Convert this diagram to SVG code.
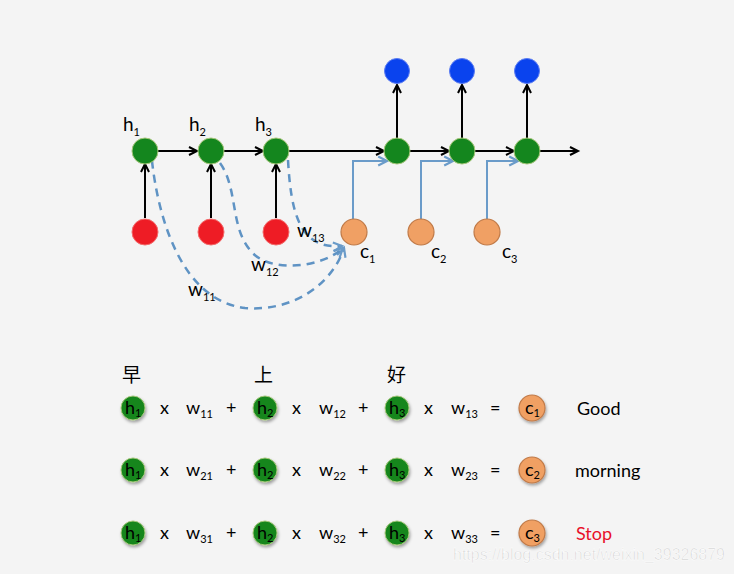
<svg xmlns="http://www.w3.org/2000/svg" width="734" height="574" viewBox="0 0 734 574">
  <defs>
    <marker id="arrowBlack" viewBox="0 0 10 10" refX="9" refY="5" markerWidth="10" markerHeight="10" orient="auto" markerUnits="userSpaceOnUse" overflow="visible">
      <path d="M1,1 L9,5 L1,9" fill="none" stroke="#000" stroke-width="2"/>
    </marker>
    <marker id="arrowBlue" viewBox="0 0 10 10" refX="9" refY="5" markerWidth="11" markerHeight="11" orient="auto" markerUnits="userSpaceOnUse" overflow="visible">
      <path d="M1,1 L9,5 L1,9" fill="none" stroke="#6a9bc9" stroke-width="2"/>
    </marker>
    <filter id="shadow" x="-50%" y="-50%" width="200%" height="200%">
      <feDropShadow dx="1" dy="2" stdDeviation="1.5" flood-color="#000" flood-opacity="0.35"/>
    </filter>
    <style>
      .hid { fill: #14861e; stroke: #a6c77a; stroke-width: 1; }
      .inp { fill: #ee1c25; stroke: #f36a6a; stroke-width: 1; }
      .out { fill: #0a43ee; stroke: #5b7cf2; stroke-width: 1; }
      .ctx { fill: #f0a064; stroke: #c07a48; stroke-width: 1.2; }
      .flow { stroke: #000; stroke-width: 2; fill: none; marker-end: url(#arrowBlack); }
      .feed { stroke: #6a9bc9; stroke-width: 2; fill: none; marker-end: url(#arrowBlue); }
      .attn { stroke: #5f93c4; stroke-width: 2.5; fill: none; stroke-dasharray: 8 6; marker-end: url(#arrowBlue); }
      .lbl { font-family: Lato, "Open Sans", "Liberation Sans", sans-serif; fill: #000; }
      .big { font-size: 19px; }
      .sub { font-size: 11px; }
      .eq { font-family: Lato, "Open Sans", "Liberation Sans", sans-serif; font-size: 18px; fill: #000; }
      .eqsub { font-size: 11px; }
      .cjk { font-family: "Noto Sans CJK SC", sans-serif; font-size: 19px; fill: #000; }
      .sm { filter: url(#shadow); }
    </style>
  </defs>

  <rect width="734" height="574" fill="#f4f4f4"/>

  <!-- connectors -->
  <g id="connectors">
    <!-- hidden state chain -->
    <line class="flow" x1="158" y1="151" x2="197" y2="151"/>
    <line class="flow" x1="224" y1="151" x2="263" y2="151"/>
    <line class="flow" x1="289" y1="151" x2="384" y2="151"/>
    <line class="flow" x1="410" y1="151" x2="449" y2="151"/>
    <line class="flow" x1="475" y1="151" x2="514" y2="151"/>
    <line class="flow" x1="540" y1="151" x2="578" y2="151"/>
    <!-- inputs to encoder states -->
    <line class="flow" x1="145" y1="218" x2="145" y2="164"/>
    <line class="flow" x1="211" y1="218" x2="211" y2="164"/>
    <line class="flow" x1="276" y1="218" x2="276" y2="164"/>
    <!-- decoder states to outputs -->
    <line class="flow" x1="397" y1="138" x2="397" y2="85"/>
    <line class="flow" x1="462" y1="138" x2="462" y2="85"/>
    <line class="flow" x1="527" y1="138" x2="527" y2="85"/>
    <!-- context vectors into decoder -->
    <path class="feed" d="M353,219 V161 H387"/>
    <path class="feed" d="M421,219 V161 H453"/>
    <path class="feed" d="M487,219 V161 H518"/>
    <!-- attention weights -->
    <path class="attn" d="M152,161 C158,215 180,300 245,308 C292,312 332,285 344,248"/>
    <path class="attn" d="M220,163 C238,188 230,226 250,250 C268,274 322,268 343,248"/>
    <path class="attn" d="M288,160 C291,212 299,250 342,246"/>
  </g>

  <!-- encoder hidden states -->
  <g id="h1"><circle class="hid" cx="145" cy="151" r="13"/>
    <text class="lbl" x="123" y="131"><tspan class="big">h</tspan><tspan class="sub" dy="5">1</tspan></text></g>
  <g id="h2"><circle class="hid" cx="211" cy="151" r="13"/>
    <text class="lbl" x="189" y="131"><tspan class="big">h</tspan><tspan class="sub" dy="5">2</tspan></text></g>
  <g id="h3"><circle class="hid" cx="276" cy="151" r="13"/>
    <text class="lbl" x="255" y="131"><tspan class="big">h</tspan><tspan class="sub" dy="5">3</tspan></text></g>

  <!-- inputs -->
  <g id="x1"><circle class="inp" cx="145" cy="232" r="13"/></g>
  <g id="x2"><circle class="inp" cx="211" cy="232" r="13"/></g>
  <g id="x3"><circle class="inp" cx="276" cy="232" r="13"/></g>

  <!-- decoder hidden states -->
  <g id="d1"><circle class="hid" cx="397" cy="151" r="13"/></g>
  <g id="d2"><circle class="hid" cx="462" cy="151" r="13"/></g>
  <g id="d3"><circle class="hid" cx="527" cy="151" r="13"/></g>

  <!-- outputs -->
  <g id="y1"><circle class="out" cx="397" cy="71" r="12.5"/></g>
  <g id="y2"><circle class="out" cx="462" cy="71" r="12.5"/></g>
  <g id="y3"><circle class="out" cx="527" cy="71" r="12.5"/></g>

  <!-- context vectors -->
  <g id="c1"><circle class="ctx" cx="354" cy="232" r="13"/>
    <text class="lbl" x="360" y="258"><tspan class="big">c</tspan><tspan class="sub" dy="5">1</tspan></text></g>
  <g id="c2"><circle class="ctx" cx="421" cy="232" r="13"/>
    <text class="lbl" x="431" y="258"><tspan class="big">c</tspan><tspan class="sub" dy="5">2</tspan></text></g>
  <g id="c3"><circle class="ctx" cx="487" cy="232" r="13"/>
    <text class="lbl" x="502" y="258"><tspan class="big">c</tspan><tspan class="sub" dy="5">3</tspan></text></g>

  <!-- attention weight labels -->
  <g id="w-labels">
    <text class="lbl" x="297" y="237"><tspan class="big">w</tspan><tspan class="sub" dy="5">13</tspan></text>
    <text class="lbl" x="251" y="271"><tspan class="big">w</tspan><tspan class="sub" dy="5">12</tspan></text>
    <text class="lbl" x="188" y="296"><tspan class="big">w</tspan><tspan class="sub" dy="5">11</tspan></text>
  </g>

  <!-- source words -->
  <g id="words">
    <text class="cjk" x="122" y="382">早</text>
    <text class="cjk" x="254" y="382">上</text>
    <text class="cjk" x="387" y="382">好</text>
  </g>

  <!-- weighted sums: c_i = h1*w_i1 + h2*w_i2 + h3*w_i3 -->
  <g id="row1">
    <g class="sm"><circle class="hid" cx="133" cy="408" r="12"/><circle class="hid" cx="265" cy="408" r="12"/><circle class="hid" cx="397" cy="408" r="12"/><circle class="ctx" cx="532" cy="408" r="13"/></g>
    <text class="eq" x="125" y="414" font-size="17">h<tspan class="eqsub" dy="3">1</tspan></text>
    <text class="eq" x="257" y="414" font-size="17">h<tspan class="eqsub" dy="3">2</tspan></text>
    <text class="eq" x="389" y="414" font-size="17">h<tspan class="eqsub" dy="3">3</tspan></text>
    <text class="eq" x="525" y="414" font-size="17">c<tspan class="eqsub" dy="3">1</tspan></text>
    <text class="eq" x="160" y="414">x</text>
    <text class="eq" x="186" y="414">w<tspan class="eqsub" dy="4">11</tspan></text>
    <text class="eq" x="226" y="414">+</text>
    <text class="eq" x="292" y="414">x</text>
    <text class="eq" x="319" y="414">w<tspan class="eqsub" dy="4">12</tspan></text>
    <text class="eq" x="358" y="414">+</text>
    <text class="eq" x="424" y="414">x</text>
    <text class="eq" x="451" y="414">w<tspan class="eqsub" dy="4">13</tspan></text>
    <text class="eq" x="490" y="414">=</text>
    <text class="eq" x="577" y="415">Good</text>
  </g>
  <g id="row2">
    <g class="sm"><circle class="hid" cx="133" cy="470" r="12"/><circle class="hid" cx="265" cy="470" r="12"/><circle class="hid" cx="397" cy="470" r="12"/><circle class="ctx" cx="532" cy="470" r="13"/></g>
    <text class="eq" x="125" y="476" font-size="17">h<tspan class="eqsub" dy="3">1</tspan></text>
    <text class="eq" x="257" y="476" font-size="17">h<tspan class="eqsub" dy="3">2</tspan></text>
    <text class="eq" x="389" y="476" font-size="17">h<tspan class="eqsub" dy="3">3</tspan></text>
    <text class="eq" x="525" y="476" font-size="17">c<tspan class="eqsub" dy="3">2</tspan></text>
    <text class="eq" x="160" y="476">x</text>
    <text class="eq" x="186" y="476">w<tspan class="eqsub" dy="4">21</tspan></text>
    <text class="eq" x="226" y="476">+</text>
    <text class="eq" x="292" y="476">x</text>
    <text class="eq" x="319" y="476">w<tspan class="eqsub" dy="4">22</tspan></text>
    <text class="eq" x="358" y="476">+</text>
    <text class="eq" x="424" y="476">x</text>
    <text class="eq" x="451" y="476">w<tspan class="eqsub" dy="4">23</tspan></text>
    <text class="eq" x="490" y="476">=</text>
    <text class="eq" x="575" y="477">morning</text>
  </g>
  <g id="row3">
    <g class="sm"><circle class="hid" cx="133" cy="533" r="12"/><circle class="hid" cx="265" cy="533" r="12"/><circle class="hid" cx="397" cy="533" r="12"/><circle class="ctx" cx="532" cy="533" r="13"/></g>
    <text class="eq" x="125" y="539" font-size="17">h<tspan class="eqsub" dy="3">1</tspan></text>
    <text class="eq" x="257" y="539" font-size="17">h<tspan class="eqsub" dy="3">2</tspan></text>
    <text class="eq" x="389" y="539" font-size="17">h<tspan class="eqsub" dy="3">3</tspan></text>
    <text class="eq" x="525" y="539" font-size="17">c<tspan class="eqsub" dy="3">3</tspan></text>
    <text class="eq" x="160" y="539">x</text>
    <text class="eq" x="186" y="539">w<tspan class="eqsub" dy="4">31</tspan></text>
    <text class="eq" x="226" y="539">+</text>
    <text class="eq" x="292" y="539">x</text>
    <text class="eq" x="319" y="539">w<tspan class="eqsub" dy="4">32</tspan></text>
    <text class="eq" x="358" y="539">+</text>
    <text class="eq" x="424" y="539">x</text>
    <text class="eq" x="451" y="539">w<tspan class="eqsub" dy="4">33</tspan></text>
    <text class="eq" x="490" y="539">=</text>
    <text class="eq" x="576" y="540" style="fill:#e8102a">Stop</text>
  </g>

  <!-- source link -->
  <text x="453" y="560" font-family="'Liberation Sans', Arial, sans-serif" font-size="16" fill="#cfcfcf" stroke="#ffffff" stroke-width="0.6" textLength="272" lengthAdjust="spacingAndGlyphs">https://blog.csdn.net/weixin_39326879</text>
</svg>
